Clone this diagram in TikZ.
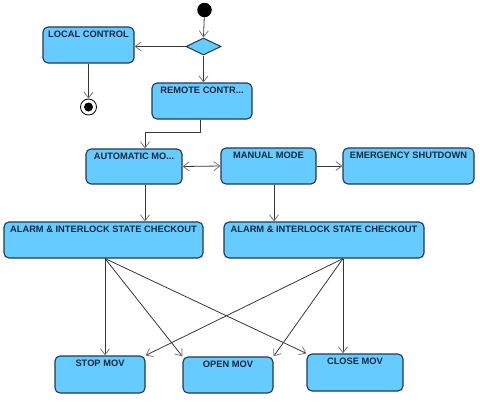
\documentclass[tikz,border=0pt]{standalone}
\usepackage{fontspec}
\setmainfont{Liberation Sans}
\usetikzlibrary{arrows.meta,shapes.geometric,calc}
\definecolor{boxfill}{RGB}{102,204,255}
\definecolor{boxline}{RGB}{35,55,80}
\definecolor{txt}{RGB}{25,40,60}
\definecolor{edge}{RGB}{55,55,55}
\definecolor{tip}{RGB}{120,120,120}
\tikzset{
  st/.style 2 args={rectangle, rounded corners=5pt, draw=boxline, fill=boxfill,
    line width=1.1pt, inner xsep=0pt, inner ysep=2.5pt, text height=8pt,
    minimum width=#1, text depth=#2, font=\fontsize{9.3}{10}\selectfont\bfseries, text=txt},
  tr/.style={draw=edge, line width=0.8pt,
    -{Straight Barb[length=6pt,width=9pt,color=tip]}},
  trb/.style={draw=edge, line width=0.8pt,
    {Straight Barb[length=6pt,width=9pt,color=tip]}-{Straight Barb[length=6pt,width=9pt,color=tip]}},
}
\begin{document}
\begin{tikzpicture}[x=1pt,y=-1pt]
\useasboundingbox (0,0) rectangle (480,402);
% initial / decision / final
\node[circle, fill=black, minimum size=14.5pt, inner sep=0pt] (in) at (204.5,10) {};
\node[diamond, draw=boxline, fill=boxfill, line width=1pt, minimum width=35pt,
      minimum height=17pt, inner sep=0pt, aspect=2] (dm) at (203.5,46.5) {};
\node[circle, draw=black, line width=0.8pt, minimum size=16pt, inner sep=0pt, fill=white] (fn) at (88.5,107) {};
\fill[black] (fn) circle (4.5pt);
% states
\node[st={91pt}{23pt}] (lc) at (88.5,45) {LOCAL CONTROL};
\node[st={100pt}{23pt}] (rm) at (202,101) {REMOTE CONTR...};
\node[st={96pt}{22pt}] (au) at (134,166.5) {AUTOMATIC MO...};
\node[st={95pt}{23pt}] (ma) at (268.5,166) {MANUAL MODE};
\node[st={131pt}{23pt}] (em) at (408.5,166) {EMERGENCY SHUTDOWN};
\node[st={199pt}{23pt}] (al) at (103.5,240) {ALARM \& INTERLOCK STATE CHECKOUT};
\node[st={200pt}{23pt}] (ar) at (324,240) {ALARM \& INTERLOCK STATE CHECKOUT};
\node[st={90pt}{24pt}] (sp) at (100,374.5) {STOP MOV};
\node[st={90pt}{23pt}] (op) at (228,375) {OPEN MOV};
\node[st={96pt}{24pt}] (cl) at (355,372.5) {CLOSE MOV};
% helper coordinates
\coordinate (ls) at ($(al.south)+(1.5pt,0)$);
\coordinate (rs) at ($(ar.south)+(19pt,0)$);
\coordinate (rmo) at ($(rm.south)+(-2pt,0)$);
\coordinate (bend) at ($(rm.south)+(-2pt,-13pt)$);
\coordinate (aui) at ($(au.north)+(11pt,0)$);
\coordinate (auo) at ($(au.south)+(11pt,0)$);
\coordinate (mao) at ($(ma.south)+(5.5pt,0)$);
% transitions
\draw[tr] (in) -- (dm.north);
\draw[tr] (dm.west) -- (dm.west -| lc.east);
\draw[tr] (dm.south) -- (dm.south |- rm.north);
\draw[tr] (lc.south) -- (fn.north);
\draw[tr] (rmo) -- (bend) -| (aui);
\draw[trb] (au.east) -- (ma.west);
\draw[tr] (ma.east) -- (em.west);
\draw[tr] (auo) -- (auo |- al.north);
\draw[tr] (mao) -- (mao |- ar.north);
\draw[tr] (ls) -- (ls |- sp.north);
\draw[tr] (ls) -- (op.north west);
\draw[tr] (ls) -- (cl.north west);
\draw[tr] (rs) -- (sp.north east);
\draw[tr] (rs) -- (op.north east);
\draw[tr] (rs) -- (rs |- cl.north);
\end{tikzpicture}
\end{document}
